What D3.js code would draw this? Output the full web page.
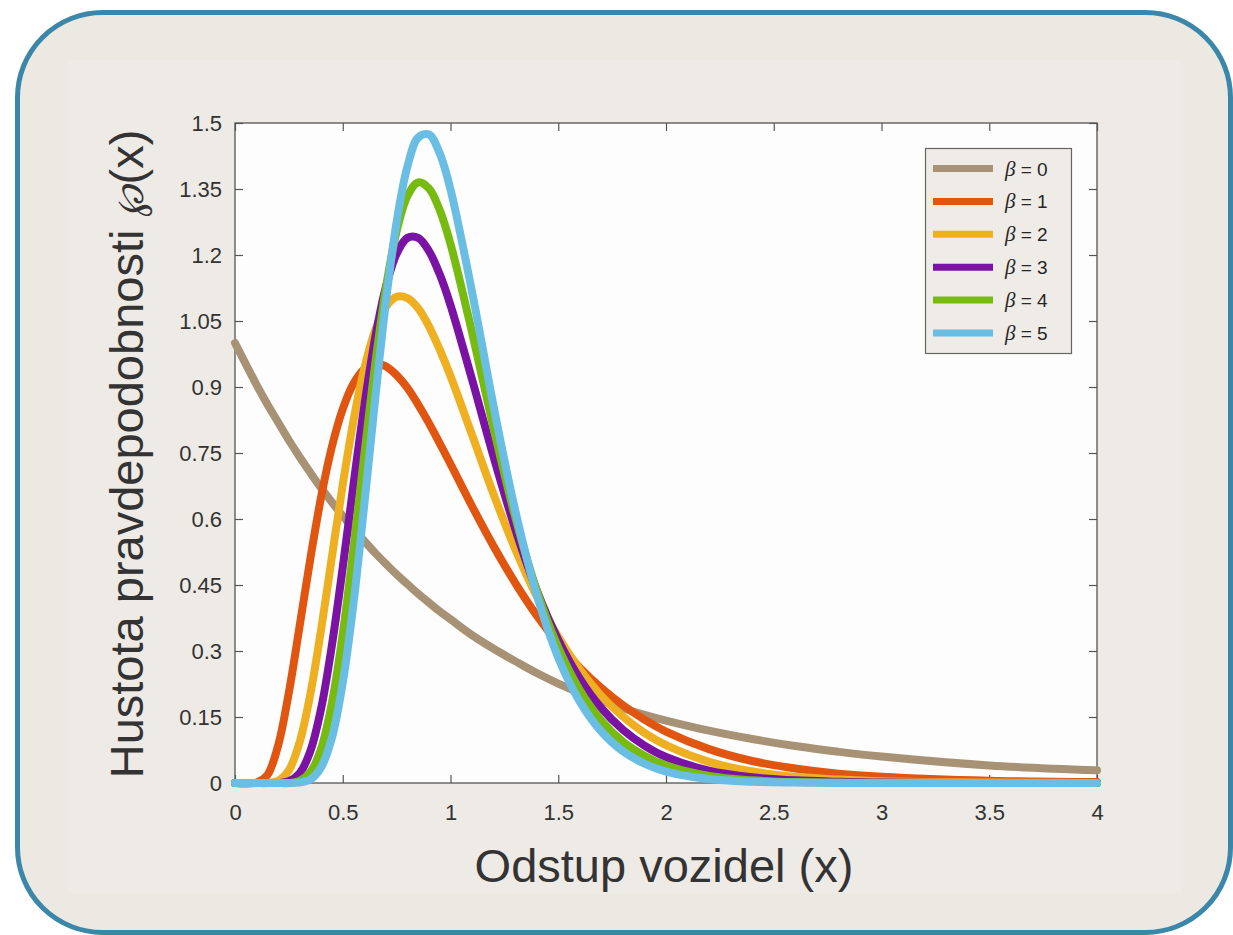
<!DOCTYPE html>
<html>
<head>
<meta charset="utf-8">
<script src="https://cdn.jsdelivr.net/npm/d3@7/dist/d3.min.js"></script>
<style>
    body { margin: 0; background: #ffffff; }
    svg { display: block; }
    .tick text { font-family: "Liberation Sans", Arial, Helvetica, sans-serif; fill: #333333; }
    .tick line { stroke: #555555; stroke-width: 1.2px; }
</style>
</head>
<body>
<div id="chart"></div>
<script>
const xValues = [0, 0.1, 0.15, 0.2, 0.25, 0.3, 0.35, 0.4, 0.45, 0.5, 0.55, 0.6, 0.65, 0.7, 0.75, 0.8, 0.85, 0.9, 0.95, 1.0,
    1.1, 1.2, 1.3, 1.4, 1.5, 1.6, 1.7, 1.8, 1.9, 2.0, 2.2, 2.4, 2.6, 2.8, 3.0, 3.5, 4.0];

const beta0 = [1.0, 0.905, 0.861, 0.82, 0.779, 0.741, 0.705, 0.67, 0.638, 0.607, 0.577, 0.55, 0.523, 0.498, 0.474, 0.452, 0.43, 0.41, 0.39, 0.372,
    0.336, 0.305, 0.277, 0.25, 0.226, 0.205, 0.187, 0.17, 0.155, 0.142, 0.119, 0.1, 0.084, 0.071, 0.06, 0.04, 0.029];
const beta1 = [0, 0.001, 0.018, 0.085, 0.206, 0.357, 0.511, 0.651, 0.765, 0.85, 0.908, 0.941, 0.953, 0.947, 0.927, 0.898, 0.86, 0.818, 0.772, 0.725,
    0.629, 0.538, 0.455, 0.381, 0.317, 0.262, 0.216, 0.177, 0.144, 0.117, 0.077, 0.05, 0.033, 0.021, 0.014, 0.005, 0.002];
const beta2 = [0, 0, 0, 0.005, 0.029, 0.093, 0.203, 0.35, 0.515, 0.678, 0.824, 0.942, 1.028, 1.082, 1.105, 1.102, 1.079, 1.038, 0.985, 0.925,
    0.791, 0.656, 0.532, 0.424, 0.332, 0.258, 0.198, 0.151, 0.114, 0.086, 0.048, 0.026, 0.014, 0.008, 0.004, 0.001, 0];
const beta3 = [0, 0, 0, 0, 0.004, 0.022, 0.073, 0.17, 0.314, 0.49, 0.679, 0.857, 1.01, 1.127, 1.203, 1.239, 1.239, 1.209, 1.156, 1.086,
    0.917, 0.741, 0.578, 0.438, 0.325, 0.237, 0.17, 0.121, 0.085, 0.059, 0.028, 0.013, 0.006, 0.003, 0.001, 0, 0];
const beta4 = [0, 0, 0, 0, 0, 0.005, 0.025, 0.079, 0.183, 0.339, 0.534, 0.746, 0.95, 1.124, 1.254, 1.334, 1.365, 1.351, 1.302, 1.225,
    1.024, 0.806, 0.605, 0.438, 0.308, 0.211, 0.142, 0.094, 0.062, 0.04, 0.016, 0.006, 0.002, 0.001, 0, 0, 0];
const beta5 = [0, 0, 0, 0, 0, 0.001, 0.008, 0.036, 0.103, 0.228, 0.409, 0.633, 0.87, 1.093, 1.275, 1.401, 1.467, 1.474, 1.431, 1.349,
    1.116, 0.856, 0.62, 0.428, 0.285, 0.185, 0.117, 0.072, 0.044, 0.026, 0.009, 0.003, 0.001, 0, 0, 0, 0];

const seriesNames = ['0', '1', '2', '3', '4', '5'];
const seriesValues = [beta0, beta1, beta2, beta3, beta4, beta5];
const seriesColors = ['#a89275', '#e0550f', '#eeb021', '#7a12a3', '#77ba10', '#6bbee3'];

const xTicks = [0, 0.5, 1, 1.5, 2, 2.5, 3, 3.5, 4];
const yTicks = [0, 0.15, 0.3, 0.45, 0.6, 0.75, 0.9, 1.05, 1.2, 1.35, 1.5];

const xLabel = 'Odstup vozidel (x)';
const yLabel = 'Hustota pravdepodobnosti ';

const width = 1233;
const height = 935;
const plot = { left: 235, top: 123, right: 1097, bottom: 783 };

const svg = d3.select('#chart').append('svg')
    .attr('width', width)
    .attr('height', height);

// rounded frame round the whole figure
svg.append('rect')
    .attr('x', 17.5)
    .attr('y', 12.5)
    .attr('width', 1213)
    .attr('height', 920)
    .attr('rx', 85)
    .attr('ry', 85)
    .style('fill', '#ece8e2')
    .style('stroke', '#3b87aa')
    .style('stroke-width', 5);

// the figure itself sits on a slightly lighter panel
svg.append('rect')
    .attr('x', 68)
    .attr('y', 60)
    .attr('width', 1114)
    .attr('height', 833)
    .style('fill', '#eeeae5');

const x = d3.scaleLinear().domain([0, 4]).range([plot.left, plot.right]);
const y = d3.scaleLinear().domain([0, 1.5]).range([plot.bottom, plot.top]);

svg.append('rect')
    .attr('x', plot.left)
    .attr('y', plot.top)
    .attr('width', plot.right - plot.left)
    .attr('height', plot.bottom - plot.top)
    .style('fill', '#fdfdfd');

const fmt = d => String(d);

svg.append('g')
    .attr('transform', `translate(0,${plot.bottom})`)
    .call(d3.axisBottom(x).tickValues(xTicks).tickFormat(fmt).tickSize(-8).tickPadding(21))
    .call(g => g.select('.domain').remove())
    .selectAll('text').style('font-size', '22px');

svg.append('g')
    .attr('transform', `translate(${plot.left},0)`)
    .call(d3.axisLeft(y).tickValues(yTicks).tickFormat(fmt).tickSize(-8).tickPadding(13))
    .call(g => g.select('.domain').remove())
    .selectAll('text').style('font-size', '22px');

svg.append('g')
    .attr('transform', `translate(0,${plot.top})`)
    .call(d3.axisTop(x).tickValues(xTicks).tickFormat('').tickSize(-8))
    .call(g => g.select('.domain').remove());

svg.append('g')
    .attr('transform', `translate(${plot.right},0)`)
    .call(d3.axisRight(y).tickValues(yTicks).tickFormat('').tickSize(-8))
    .call(g => g.select('.domain').remove());

svg.append('rect')
    .attr('x', plot.left)
    .attr('y', plot.top)
    .attr('width', plot.right - plot.left)
    .attr('height', plot.bottom - plot.top)
    .style('fill', 'none')
    .style('stroke', '#555555')
    .style('stroke-width', 1.3);

// Catmull-Rom keeps the peaks round instead of flattening them
const line = d3.line()
    .x((d, i) => x(xValues[i]))
    .y(d => y(Math.max(d, 0)))
    .curve(d3.curveCatmullRom.alpha(0.5));

svg.append('g').selectAll('path')
    .data(seriesValues)
    .enter().append('path')
    .attr('d', d => line(d))
    .style('fill', 'none')
    .style('stroke', (d, i) => seriesColors[i])
    .style('stroke-width', 8)
    .style('stroke-linecap', 'round')
    .style('stroke-linejoin', 'round');

// legend box, top right
const legend = svg.append('g');
legend.append('rect')
    .attr('x', 925.5)
    .attr('y', 148.5)
    .attr('width', 146)
    .attr('height', 205)
    .style('fill', '#efebe6')
    .style('stroke', '#666666')
    .style('stroke-width', 1.2);

const legendItem = legend.selectAll('.legend-item')
    .data(seriesNames)
    .enter().append('g')
    .attr('class', 'legend-item')
    .attr('transform', (d, i) => `translate(0,${168.5 + i * 32.9})`);

legendItem.append('line')
    .attr('x1', 933)
    .attr('x2', 993)
    .style('stroke', (d, i) => seriesColors[i])
    .style('stroke-width', 7);

const legendText = legendItem.append('text')
    .attr('x', 1005)
    .attr('y', 7)
    .style('font-family', '"Liberation Sans", Arial, sans-serif')
    .style('font-size', '19px')
    .style('fill', '#262626');
legendText.append('tspan')
    .style('font-family', '"Liberation Serif", "DejaVu Serif", serif')
    .style('font-style', 'italic')
    .style('font-size', '21px')
    .text('β');
legendText.append('tspan')
    .text(d => ` = ${d}`);

// axis titles
svg.append('text')
    .attr('x', (plot.left + plot.right) / 2 - 2)
    .attr('y', 882)
    .style('text-anchor', 'middle')
    .style('font-family', '"Liberation Sans", Arial, sans-serif')
    .style('font-size', '47px')
    .style('fill', '#333333')
    .text(xLabel);

const yTitle = svg.append('text')
    .attr('transform', 'translate(143,454) rotate(-90)')
    .style('text-anchor', 'middle')
    .style('font-family', '"Liberation Sans", Arial, sans-serif')
    .style('font-size', '47px')
    .style('fill', '#333333');
yTitle.append('tspan').text(yLabel);
yTitle.append('tspan')
    .style('font-family', '"DejaVu Serif", serif')
    .style('font-style', 'italic')
    .style('font-size', '38px')
    .text('℘');
yTitle.append('tspan').text('(x)');
</script>
</body>
</html>
